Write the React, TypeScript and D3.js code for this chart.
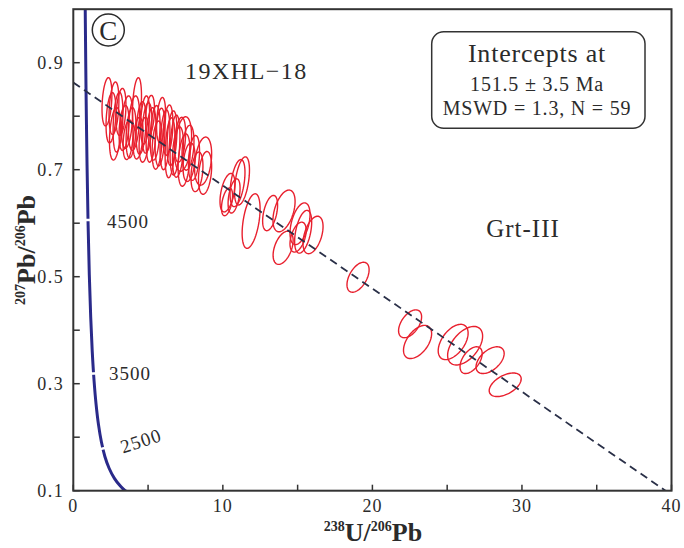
import * as d3 from "d3";
import { useEffect, useRef } from "react";

// spot analyses: 238U/206Pb, 207Pb/206Pb, 2s errors and error correlation
const ellipseX = [
  2.25, 2.72, 2.79, 3.19, 4.26, 3.59, 3.66, 4.06, 4.53, 4.93, 5.2, 5.47, 5.8, 6.13, 6.47, 7.34, 7.41, 7.74, 8.68,
  8.81, 8.27, 4.73, 3.86, 2.99, 6.8, 7.0, 5.87, 5.13, 3.39, 6.33, 7.67, 4.33, 5.6, 6.6, 8.07, 2.52, 4.8, 7.14,
  10.31, 10.98, 11.28, 10.28, 11.89, 13.16, 14.09, 15.16, 15.37, 16.03, 14.03, 15.03, 10.75,
  19.04, 22.52, 23.02, 25.4, 26.2, 26.6, 27.87, 28.88,
];
const ellipseY = [
  0.827, 0.815, 0.767, 0.808, 0.823, 0.789, 0.756, 0.787, 0.778, 0.778, 0.765, 0.769, 0.761, 0.756, 0.741, 0.748,
  0.718, 0.714, 0.716, 0.694, 0.696, 0.756, 0.769, 0.789, 0.746, 0.733, 0.793, 0.802, 0.778, 0.774, 0.741, 0.759,
  0.746, 0.759, 0.722, 0.797, 0.793, 0.756,
  0.657, 0.675, 0.679, 0.64, 0.604, 0.619, 0.623, 0.599, 0.584, 0.578, 0.554, 0.574, 0.651,
  0.499, 0.412, 0.378, 0.378, 0.371, 0.344, 0.344, 0.298,
];
const errX = [
  0.33, 0.33, 0.37, 0.33, 0.3, 0.37, 0.33, 0.37, 0.33, 0.33, 0.33, 0.33, 0.33, 0.33, 0.33, 0.57, 0.4, 0.4, 0.57,
  0.44, 0.4, 0.33, 0.33, 0.33, 0.33, 0.37, 0.3, 0.3, 0.33, 0.33, 0.4, 0.33, 0.33, 0.33, 0.37, 0.33, 0.3, 0.37,
  0.5, 0.5, 0.5, 0.37, 0.6, 0.5, 0.74, 0.67, 0.57, 0.67, 0.67, 0.54, 0.4,
  0.74, 0.77, 0.94, 1.0, 1.17, 0.74, 0.94, 1.07,
];
const errY = [
  0.045, 0.049, 0.049, 0.044, 0.049, 0.049, 0.037, 0.051, 0.049, 0.047, 0.051, 0.051, 0.054, 0.056, 0.056, 0.051,
  0.049, 0.036, 0.045, 0.04, 0.037, 0.042, 0.047, 0.056, 0.056, 0.047, 0.042, 0.037, 0.042, 0.047, 0.042, 0.039,
  0.045, 0.051, 0.042, 0.047, 0.045, 0.042,
  0.036, 0.044, 0.045, 0.026, 0.051, 0.033, 0.039, 0.039, 0.04, 0.035, 0.031, 0.028, 0.032,
  0.028, 0.026, 0.031, 0.033, 0.036, 0.025, 0.025, 0.022,
];
const errRho = [
  0.3, 0.3, 0.3, 0.3, 0.3, 0.3, 0.3, 0.3, 0.3, 0.3, 0.3, 0.3, 0.3, 0.3, 0.3, 0.3, 0.3, 0.3, 0.3,
  0.3, 0.3, 0.3, 0.3, 0.3, 0.3, 0.3, 0.3, 0.3, 0.3, 0.3, 0.3, 0.3, 0.3, 0.3, 0.3, 0.3, 0.3, 0.3,
  0.45, 0.45, 0.45, 0.45, 0.45, 0.45, 0.45, 0.45, 0.45, 0.45, 0.45, 0.45, 0.45,
  0.5, 0.5, 0.5, 0.5, 0.5, 0.5, 0.5, 0.5,
];

// Tera-Wasserburg concordia
const concordiaX = [0.795, 0.806, 0.853, 0.918, 0.99, 1.071, 1.163, 1.267, 1.387, 1.525, 1.687, 1.88, 2.111, 2.394, 2.749, 3.104, 3.314, 3.429, 3.55];
const concordiaY = [1.009, 0.974, 0.845, 0.71, 0.597, 0.503, 0.425, 0.36, 0.306, 0.261, 0.223, 0.191, 0.164, 0.142, 0.123, 0.11, 0.104, 0.101, 0.099];

const ageLabels = ["4500", "3500", "2500"];
const ageX = [0.984, 1.358, 1.983];
const ageY = [0.606, 0.319, 0.179];

// discordia (regression) line
const discordiaX = [0, 39.6];
const discordiaY = [0.863, 0.1];

const xTicks = [0, 10, 20, 30, 40];
const xMinor = [5, 15, 25, 35];
const yTicks = [0.1, 0.3, 0.5, 0.7, 0.9];
const yMinor = [0.2, 0.4, 0.6, 0.8];

export default function App() {
  const ref = useRef<HTMLDivElement>(null);

  useEffect(() => {
    const width = 684;
    const height = 548;
    const margin = { top: 9.2, right: 12.5, bottom: 57.3, left: 73.3 };
    const ink = "#2b2b2b";

    d3.select(ref.current).select("svg").remove();

    const svg = d3
      .select(ref.current)
      .append("svg")
      .attr("width", width)
      .attr("height", height)
      .style("position", "absolute")
      .style("left", "0px")
      .style("top", "0px")
      .style("background", "#fff")
      .attr("font-family", "'Liberation Serif', 'Times New Roman', serif");

    const x = d3.scaleLinear().domain([0, 40]).range([margin.left, width - margin.right]);
    const y = d3.scaleLinear().domain([0.1, 1.0]).range([height - margin.bottom, margin.top]);

    svg
      .append("defs")
      .append("clipPath")
      .attr("id", "plot-clip")
      .append("rect")
      .attr("x", x(0))
      .attr("y", y(1.0))
      .attr("width", x(40) - x(0))
      .attr("height", y(0.1) - y(1.0));

    const plot = svg.append("g").attr("clip-path", "url(#plot-clip)");

    // concordia curve
    const concordia = concordiaX.map((d, i) => [d, concordiaY[i]] as [number, number]);
    plot
      .append("path")
      .attr(
        "d",
        d3
          .line<[number, number]>()
          .x((d) => x(d[0]))
          .y((d) => y(d[1]))
          .curve(d3.curveCatmullRom)(concordia)
      )
      .attr("fill", "none")
      .attr("stroke", "#2a2a8a")
      .attr("stroke-width", 3);

    // age marks: white breaks across the curve
    const labelPos = [
      { dx: 19, dy: 8, rot: 0 },
      { dx: 15.5, dy: 6.5, rot: 0 },
      { dx: 20, dy: 5, rot: -18 },
    ];
    ageLabels.forEach((label, i) => {
      const px = x(ageX[i]);
      const py = y(ageY[i]);
      // local tangent from neighbouring curve points
      let k = 0;
      while (k < concordiaY.length - 2 && concordiaY[k + 1] > ageY[i]) k++;
      const ang = Math.atan2(y(concordiaY[k + 1]) - y(concordiaY[k]), x(concordiaX[k + 1]) - x(concordiaX[k]));
      const nx = -Math.sin(ang) * 5;
      const ny = Math.cos(ang) * 5;
      plot
        .append("line")
        .attr("x1", px - nx)
        .attr("y1", py - ny)
        .attr("x2", px + nx)
        .attr("y2", py + ny)
        .attr("stroke", "#fff")
        .attr("stroke-width", 2.5);

      const p = labelPos[i];
      svg
        .append("text")
        .attr("transform", `translate(${px + p.dx},${py + p.dy}) rotate(${p.rot})`)
        .attr("font-size", 19)
        .attr("letter-spacing", 1)
        .attr("fill", ink)
        .text(label);
    });

    // analysis ellipses
    const t = d3.range(0, 2 * Math.PI + 0.001, Math.PI / 40);
    const ellipse = d3
      .line<[number, number]>()
      .x((d) => x(d[0]))
      .y((d) => y(d[1]))
      .curve(d3.curveLinearClosed);
    plot
      .selectAll("path.ell")
      .data(ellipseX.map((_, i) => i))
      .enter()
      .append("path")
      .attr("class", "ell")
      .attr("d", (i) => {
        const r = errRho[i];
        const pts = t.map(
          (a) =>
            [
              ellipseX[i] + errX[i] * Math.cos(a),
              ellipseY[i] + errY[i] * (r * Math.cos(a) + Math.sqrt(1 - r * r) * Math.sin(a)),
            ] as [number, number]
        );
        return ellipse(pts);
      })
      .attr("fill", "none")
      .attr("stroke", "#e8202e")
      .attr("stroke-width", 1.4);

    // discordia
    plot
      .append("line")
      .attr("x1", x(discordiaX[0]))
      .attr("y1", y(discordiaY[0]))
      .attr("x2", x(discordiaX[1]))
      .attr("y2", y(discordiaY[1]))
      .attr("stroke", "#2a3048")
      .attr("stroke-width", 1.8)
      .attr("stroke-dasharray", "8,5");

    // frame
    svg
      .append("rect")
      .attr("x", x(0))
      .attr("y", y(1.0))
      .attr("width", x(40) - x(0))
      .attr("height", y(0.1) - y(1.0))
      .attr("fill", "none")
      .attr("stroke", "#333")
      .attr("stroke-width", 2);

    // ticks (inward)
    svg
      .selectAll("line.yt")
      .data([...yTicks, ...yMinor])
      .enter()
      .append("line")
      .attr("x1", x(0))
      .attr("x2", x(0) + 6.5)
      .attr("y1", (d) => y(d))
      .attr("y2", (d) => y(d))
      .attr("stroke", "#333")
      .attr("stroke-width", 1.5);
    svg
      .selectAll("line.xt")
      .data([...xTicks, ...xMinor])
      .enter()
      .append("line")
      .attr("x1", (d) => x(d))
      .attr("x2", (d) => x(d))
      .attr("y1", y(0.1))
      .attr("y2", y(0.1) - 6)
      .attr("stroke", "#333")
      .attr("stroke-width", 1.5);

    svg
      .selectAll("text.yl")
      .data(yTicks)
      .enter()
      .append("text")
      .attr("x", x(0) - 9)
      .attr("y", (d) => y(d) + 6)
      .attr("text-anchor", "end")
      .attr("font-size", 18)
      .attr("letter-spacing", 1.5)
      .attr("fill", ink)
      .text((d) => d3.format(".1f")(d));
    svg
      .selectAll("text.xl")
      .data(xTicks)
      .enter()
      .append("text")
      .attr("x", (d) => x(d))
      .attr("y", 512)
      .attr("text-anchor", "middle")
      .attr("font-size", 18)
      .attr("letter-spacing", 1)
      .attr("fill", ink)
      .text((d) => d);

    // axis titles
    const xTitle = svg
      .append("text")
      .attr("x", 373)
      .attr("y", 541)
      .attr("text-anchor", "middle")
      .attr("font-size", 26)
      .attr("font-weight", "bold")
      .attr("fill", ink);
    xTitle.append("tspan").attr("font-size", 14).attr("dy", -10).text("238");
    xTitle.append("tspan").attr("dy", 10).text("U/");
    xTitle.append("tspan").attr("font-size", 14).attr("dy", -10).text("206");
    xTitle.append("tspan").attr("dy", 10).text("Pb");

    const yTitle = svg
      .append("text")
      .attr("transform", `translate(35,${(y(0.1) + y(1.0)) / 2}) rotate(-90)`)
      .attr("text-anchor", "middle")
      .attr("font-size", 26)
      .attr("font-weight", "bold")
      .attr("fill", ink);
    yTitle.append("tspan").attr("font-size", 14).attr("dy", -10).text("207");
    yTitle.append("tspan").attr("dy", 10).text("Pb/");
    yTitle.append("tspan").attr("font-size", 14).attr("dy", -10).text("206");
    yTitle.append("tspan").attr("dy", 10).text("Pb");

    // panel letter
    svg
      .append("circle")
      .attr("cx", 108.3)
      .attr("cy", 30)
      .attr("r", 16)
      .attr("fill", "#fff")
      .attr("stroke", ink)
      .attr("stroke-width", 1.5);
    svg
      .append("text")
      .attr("x", 108.3)
      .attr("y", 39.5)
      .attr("text-anchor", "middle")
      .attr("font-size", 27)
      .attr("fill", ink)
      .text("C");

    svg
      .append("text")
      .attr("x", 185)
      .attr("y", 79)
      .attr("font-size", 24)
      .attr("letter-spacing", 1.5)
      .attr("fill", ink)
      .text("19XHL−18");

    svg
      .append("text")
      .attr("x", 523)
      .attr("y", 237)
      .attr("text-anchor", "middle")
      .attr("font-size", 25)
      .attr("letter-spacing", 1)
      .attr("fill", ink)
      .text("Grt-III");

    // result box
    svg
      .append("rect")
      .attr("x", 431.7)
      .attr("y", 31.7)
      .attr("width", 213.3)
      .attr("height", 96.6)
      .attr("rx", 12)
      .attr("fill", "#fff")
      .attr("stroke", "#333")
      .attr("stroke-width", 1.5);
    const box = [
      { text: "Intercepts at", y: 62, size: 26 },
      { text: "151.5 ± 3.5 Ma", y: 91, size: 20 },
      { text: "MSWD = 1.3, N = 59", y: 115, size: 20 },
    ];
    box.forEach((b) => {
      svg
        .append("text")
        .attr("x", 537)
        .attr("y", b.y)
        .attr("text-anchor", "middle")
        .attr("font-size", b.size)
        .attr("letter-spacing", 0.8)
        .attr("fill", ink)
        .text(b.text);
    });
  }, []);

  return <div ref={ref}></div>;
}
